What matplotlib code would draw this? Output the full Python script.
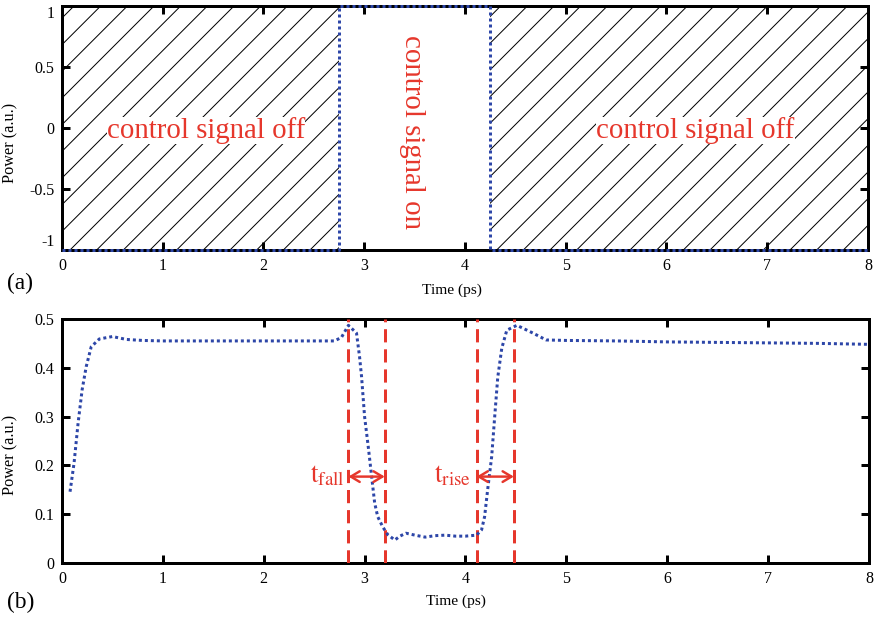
import numpy as np
import matplotlib
matplotlib.use('Agg')
import matplotlib.pyplot as plt

# control signal (top panel): switch times and levels
ctrl_time = [0.0, 2.75, 2.75, 4.25, 4.25, 8.0]
ctrl_level = [-1.0, -1.0, 1.0, 1.0, -1.0, -1.0]

# output power (bottom panel)
out_time = [0.08, 0.12, 0.16, 0.20, 0.24, 0.29, 0.37, 0.50, 0.64, 0.80,
            1.0, 1.5, 2.0, 2.5, 2.70, 2.77, 2.84, 2.92, 2.95, 2.97,
            3.00, 3.04, 3.07, 3.10, 3.13, 3.18, 3.23, 3.30, 3.35, 3.41,
            3.50, 3.60, 3.70, 3.80, 3.90, 4.00, 4.11, 4.16, 4.19, 4.22,
            4.26, 4.29, 4.32, 4.36, 4.41, 4.51, 4.67, 4.80, 5.0, 5.5,
            6.0, 6.5, 7.0, 7.5, 8.0]
out_power = [0.146, 0.205, 0.287, 0.355, 0.402, 0.443, 0.459, 0.464, 0.458, 0.456,
             0.455, 0.455, 0.455, 0.455, 0.455, 0.462, 0.487, 0.471, 0.423, 0.382,
             0.300, 0.232, 0.177, 0.123, 0.095, 0.074, 0.058, 0.047, 0.055, 0.061,
             0.057, 0.053, 0.056, 0.057, 0.055, 0.055, 0.057, 0.068, 0.095, 0.150,
             0.218, 0.300, 0.380, 0.440, 0.477, 0.487, 0.471, 0.457, 0.456, 0.455,
             0.453, 0.452, 0.451, 0.450, 0.448]

# fall / rise time markers
t_fall = (2.84, 3.20)
t_rise = (4.11, 4.48)
marker_level = 0.177

x_ticks = [0, 1, 2, 3, 4, 5, 6, 7, 8]
top_yticks = [-1, -0.5, 0, 0.5, 1]
top_ylabels = ['-1', '-0.5', '0', '0.5', '1']
bot_yticks = [0, 0.1, 0.2, 0.3, 0.4, 0.5]
bot_ylabels = ['0', '0.1', '0.2', '0.3', '0.4', '0.5']

RED = '#e6372c'
BLUE = '#2d46a8'

plt.rcParams['font.family'] = ['Liberation Serif', 'DejaVu Serif']
plt.rcParams['mathtext.fontset'] = 'stix'
plt.rcParams['hatch.linewidth'] = 0.45

DPI = 160
fig = plt.figure(figsize=(874 / DPI, 619 / DPI), dpi=DPI)
ax1 = fig.add_axes([0.0709, 0.5955, 0.9222, 0.3956])
ax2 = fig.add_axes([0.0709, 0.0905, 0.9233, 0.3942])

dots = (0, (1, 1))


def style_axes(ax):
    for sp in ax.spines.values():
        sp.set_linewidth(1.35)
    ax.tick_params(direction='in', length=3.6, width=1.35, top=True, right=True,
                   labelsize=7.2, pad=3.4)
    ax.set_xticks(x_ticks)
    ax.set_xticklabels([str(v) for v in x_ticks])
    ax.set_xlim(0, 8)


# ---- (a) control signal ----
style_axes(ax1)
ax1.set_ylim(-1, 1)
ax1.set_yticks(top_yticks)
ax1.set_yticklabels(top_ylabels)
ax1.get_yticklabels()[0].set_va('bottom')
ax1.get_yticklabels()[-1].set_va('top')
# hatch the region where the control signal is off
ax1.fill_between(ctrl_time, ctrl_level, 1, facecolor='none', edgecolor='black',
                 hatch='//', linewidth=0)
ax1.plot(ctrl_time, ctrl_level, color=BLUE, lw=1.35, linestyle=dots,
         clip_on=False, zorder=5)
ax1.text(1.43, -0.02, 'control signal off', color=RED, fontsize=13,
         ha='center', va='center',
         bbox=dict(facecolor='white', edgecolor='none', pad=0))
ax1.text(6.29, -0.02, 'control signal off', color=RED, fontsize=13,
         ha='center', va='center',
         bbox=dict(facecolor='white', edgecolor='none', pad=0))
ax1.text(3.47, -0.03, 'control signal on', color=RED, fontsize=13,
         ha='center', va='center', rotation=-90)
ax1.set_xlabel('Time (ps)', fontsize=6.9)
ax1.set_ylabel('Power (a.u.)', fontsize=7.3)
ax1.xaxis.set_label_coords(0.484, -0.135)
ax1.yaxis.set_label_coords(-0.0545, 0.437)

# ---- (b) output power ----
style_axes(ax2)
ax2.set_ylim(0, 0.5)
ax2.set_yticks(bot_yticks)
ax2.set_yticklabels(bot_ylabels)
ax2.plot(out_time, out_power, color=BLUE, lw=1.35, linestyle=dots, zorder=4)
for xv in t_fall + t_rise:
    ax2.axvline(xv, color=RED, lw=1.35, linestyle=(0, (4.4, 2.3)), zorder=3)
arrow = dict(arrowstyle='<->,head_length=0.5,head_width=0.3', color=RED,
             lw=1.1, mutation_scale=8, shrinkA=0, shrinkB=0)
ax2.annotate('', xy=(t_fall[1], marker_level), xytext=(t_fall[0], marker_level),
             arrowprops=arrow, zorder=6)
ax2.annotate('', xy=(t_rise[1], marker_level), xytext=(t_rise[0], marker_level),
             arrowprops=arrow, zorder=6)
ax2.text(2.81, 0.166, r'$\mathrm{t}_{\mathrm{fall}}$', color=RED,
         fontsize=12.2, ha='right', va='baseline')
ax2.text(4.06, 0.166, r'$\mathrm{t}_{\mathrm{rise}}$', color=RED,
         fontsize=12.2, ha='right', va='baseline')
ax2.set_xlabel('Time (ps)', fontsize=6.9)
ax2.set_ylabel('Power (a.u.)', fontsize=7.3)
ax2.xaxis.set_label_coords(0.488, -0.131)
ax2.yaxis.set_label_coords(-0.0545, 0.443)

fig.text(20 / 874, 1 - 283 / 619, '(a)', fontsize=10.5, ha='center', va='center')
fig.text(21 / 874, 1 - 602 / 619, '(b)', fontsize=10.5, ha='center', va='center')

fig.savefig('out.png', dpi=DPI)
